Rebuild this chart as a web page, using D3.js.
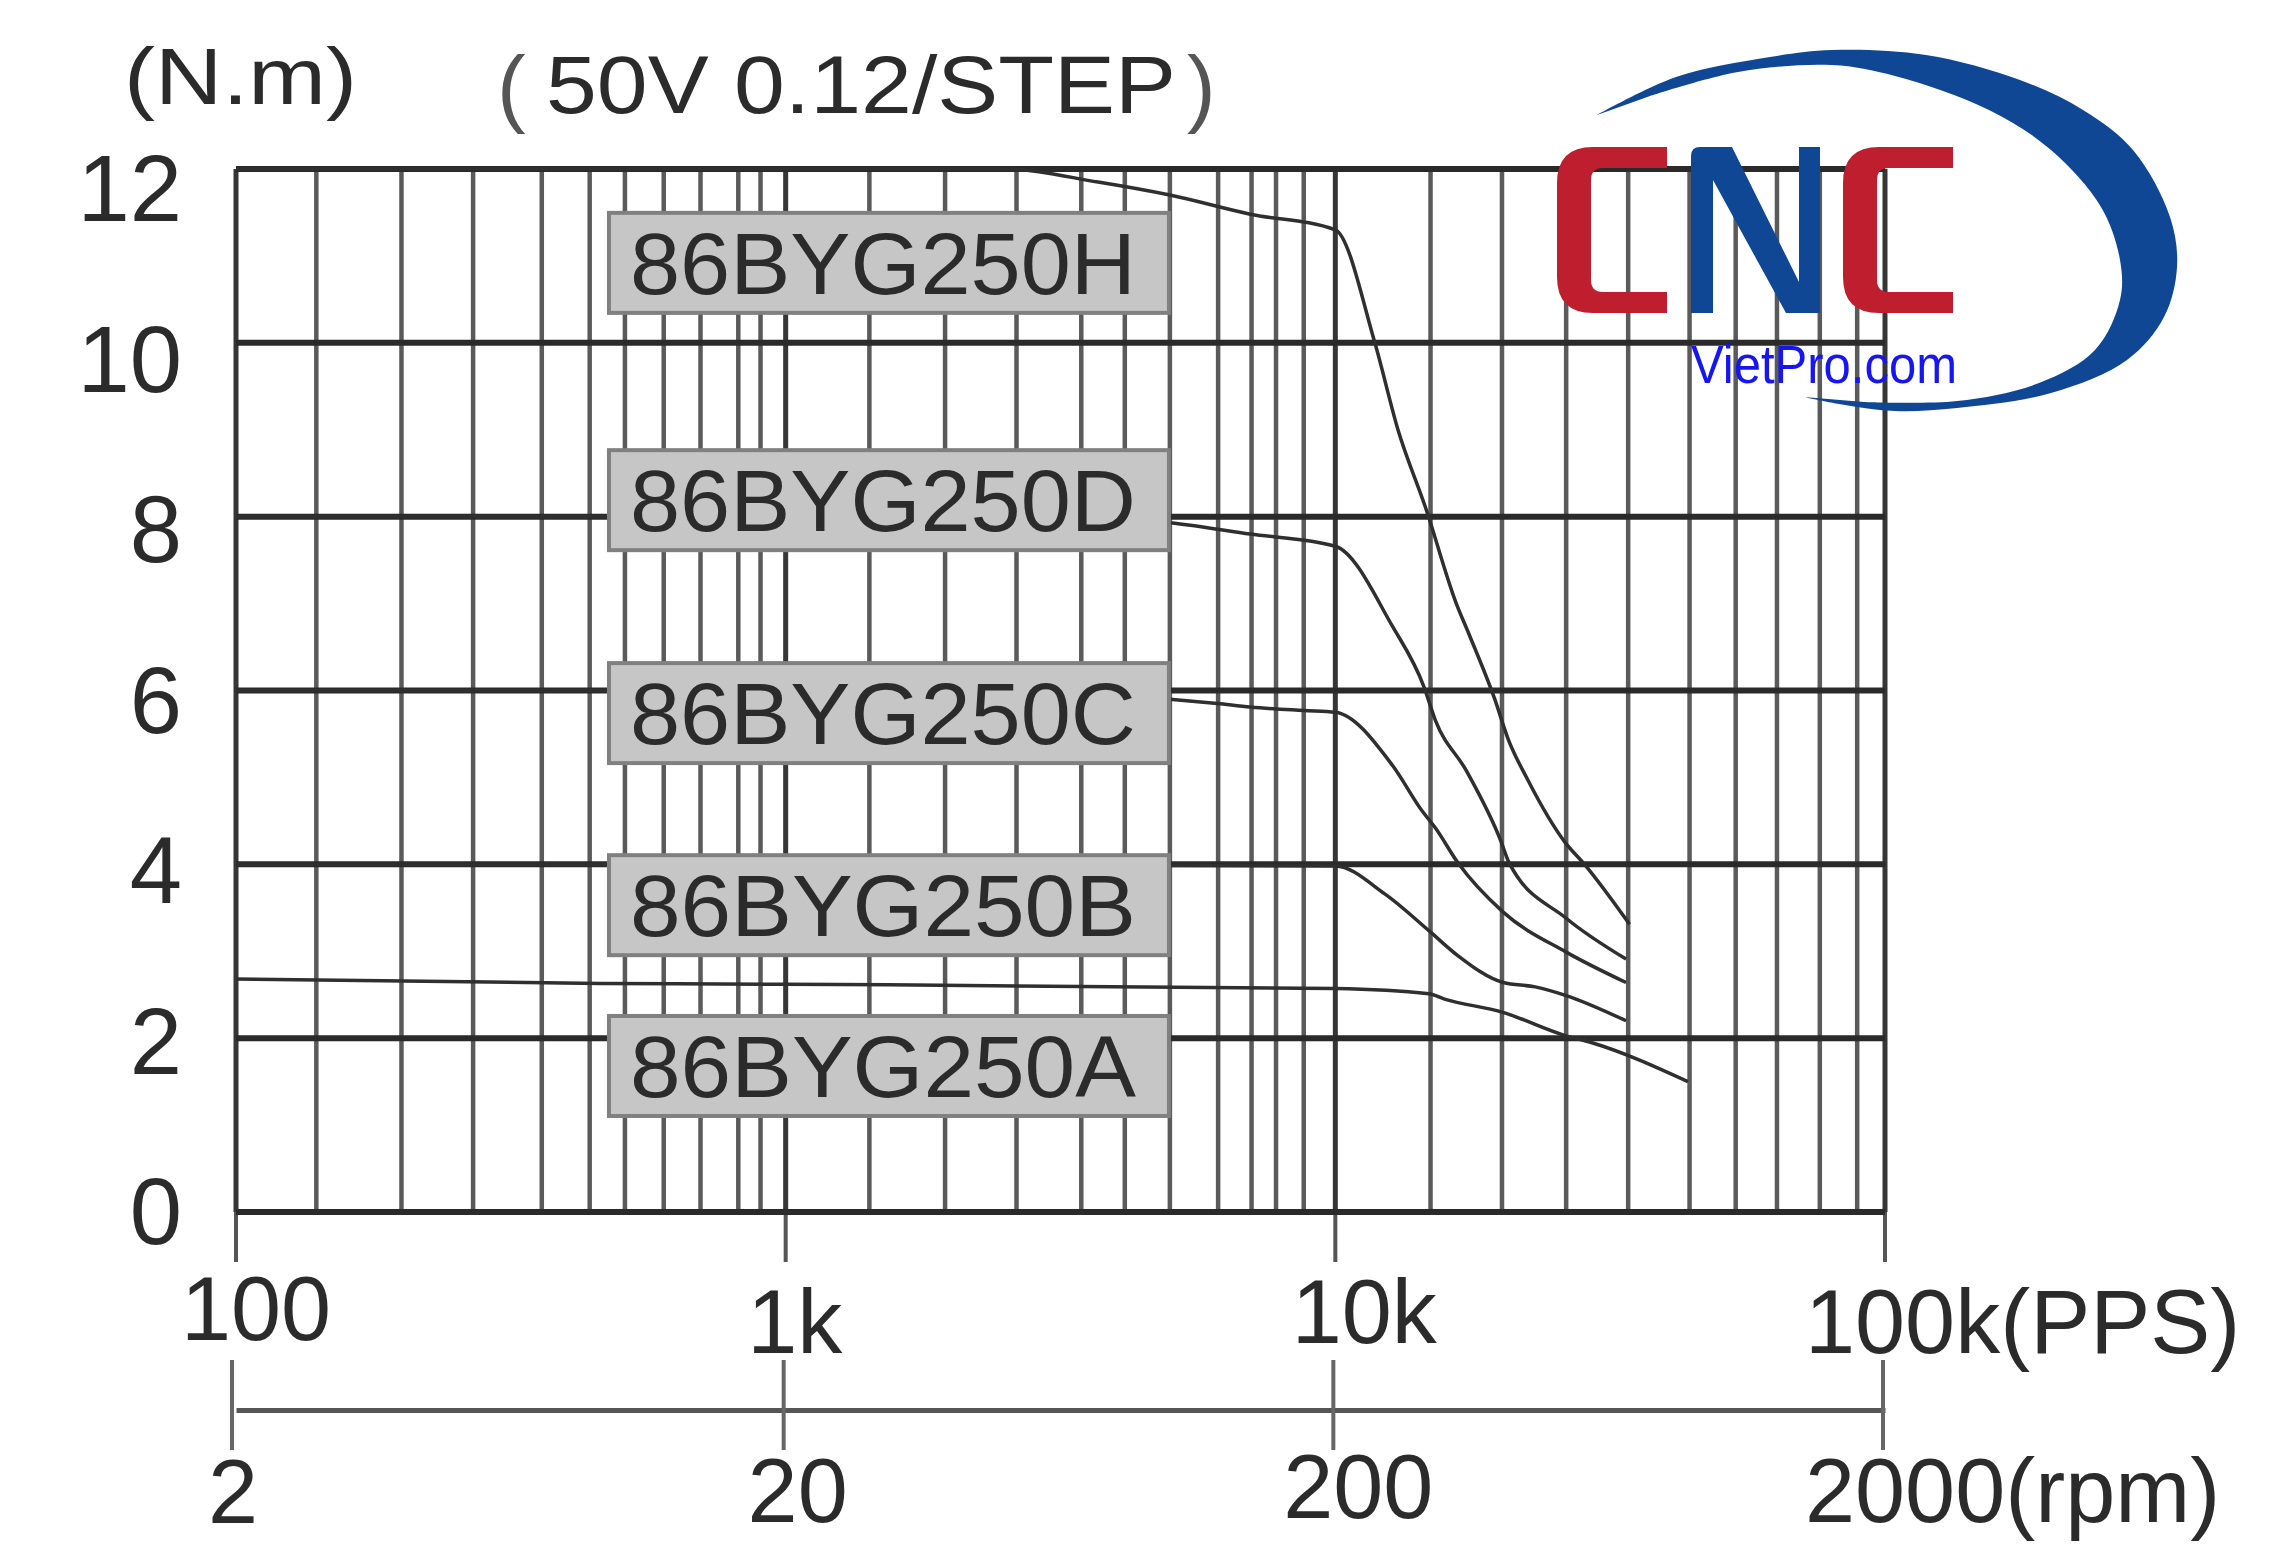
<!DOCTYPE html>
<html>
<head>
<meta charset="utf-8">
<script src="https://cdn.jsdelivr.net/npm/d3@7"></script>
<style>
  html, body { margin: 0; padding: 0; background: #ffffff; }
  svg { display: block; }
  text { font-family: "Liberation Sans", Arial, "Noto Sans CJK SC", sans-serif; fill: #2b2b2b; }
</style>
</head>
<body>
<svg id="chart" width="2282" height="1544"></svg>
<script>
// ---------------- DATA ----------------
const seriesNames = ["86BYG250H", "86BYG250D", "86BYG250C", "86BYG250B", "86BYG250A"];

// torque (N.m) vs pulse rate (PPS)
const curveH = [[100,12],[1000,12],[2500,12],[3700,11.85],[5000,11.7],[7000,11.48],[10000,11.3],
  [11800,10.0],[13000,9.0],[14600,8.1],[16600,7.0],[17500,6.65],[19500,5.9],[20600,5.45],
  [22400,4.97],[26200,4.25],[28400,4.0],[34300,3.31]];
const curveD = [[100,8],[1000,8],[3500,8],[5000,7.93],[7000,7.8],[10000,7.66],[12700,6.74],
  [14500,6.04],[15200,5.66],[17300,5.08],[20000,4.27],[20700,4.02],[26300,3.38],[33800,2.91]];
const curveC = [[100,6],[1000,6],[3000,6],[5000,5.9],[6100,5.85],[7000,5.81],[8760,5.77],
  [10000,5.75],[12700,5.14],[14400,4.61],[15200,4.42],[16700,4.02],[20200,3.45],[26300,2.99],[33800,2.64]];
const curveB = [[100,4],[1000,4],[10000,3.98],[12300,3.66],[14900,3.22],[16700,2.95],[20200,2.64],
  [23100,2.59],[26300,2.49],[33800,2.2]];
const curveA = [[100,2.68],[460,2.63],[1000,2.62],[10000,2.57],[14800,2.51],[15800,2.45],[20100,2.3],
  [26200,2.03],[29200,1.95],[43800,1.5]];
const curves = [curveH, curveD, curveC, curveB, curveA];

// grid lines on the PPS axis (as drawn on the original sheet)
const ppsGrid = [100,140,200,270,360,440,510,600,700,820,900,1000,
  1420,1950,2630,3450,4140,5000,6120,7040,7800,8760,10000,
  14900,20100,26300,34100,44100,53500,63600,76100,89000,100000];
const ppsMajor = [100, 1000, 10000, 100000];
const ppsLabels = ["100", "1k", "10k", "100k(PPS)"];
const torqueTicks = [0, 2, 4, 6, 8, 10, 12];
const torqueLabels = ["0", "2", "4", "6", "8", "10", "12"];
const rpmTicks = [2, 20, 200, 2000];
const rpmLabels = ["2", "20", "200", "2000(rpm)"];
// torque level at which each model tag is centred
const tagTorque = [10.92, 8.19, 5.74, 3.53, 1.68];

const unitText = "(N.m)";
const titleParts = ["(", "50V 0.12/STEP", ")"];

// ---------------- LAYOUT ----------------
const svg = d3.select("#chart");
const W = 2282, H = 1544;
svg.append("rect").attr("width", W).attr("height", H).attr("fill", "#fff");

const x = d3.scaleLog().domain([100, 100000]).range([236, 1885]);
const y = d3.scaleLinear().domain([0, 12]).range([1212, 169]);
const yLab = d3.scaleLinear().domain([0, 12]).range([1210, 187]);
const xr = d3.scaleLog().domain([2, 2000]).range([236, 1885]);

// vertical grid
const g = svg.append("g");
g.selectAll("line.v").data(ppsGrid).enter().append("line")
  .attr("x1", d => x(d)).attr("x2", d => x(d))
  .attr("y1", y(12)).attr("y2", y(0))
  .attr("stroke", d => ppsMajor.includes(d) ? "#363636" : "#5a5a5a")
  .attr("stroke-width", d => ppsMajor.includes(d) ? 5 : 4.5);

// major ticks below the torque axis
g.selectAll("line.t").data(ppsMajor).enter().append("line")
  .attr("x1", d => x(d)).attr("x2", d => x(d))
  .attr("y1", y(0)).attr("y2", y(0) + 50)
  .attr("stroke", "#555").attr("stroke-width", 4);

// horizontal grid
g.selectAll("line.h").data(torqueTicks).enter().append("line")
  .attr("x1", x(100)).attr("x2", x(100000))
  .attr("y1", d => y(d)).attr("y2", d => y(d))
  .attr("stroke", "#2a2a2a").attr("stroke-width", 6);

// curves
const line = d3.line().x(d => x(d[0])).y(d => y(d[1])).curve(d3.curveMonotoneX);
svg.append("g").selectAll("path").data(curves).enter().append("path")
  .attr("d", line).attr("fill", "none")
  .attr("stroke", "#2f2f2f").attr("stroke-width", 3.5)
  .attr("stroke-linejoin", "round");

// model tags
const tagLeft = x(477), tagW = 560, tagH = 100;
const tags = svg.append("g").selectAll("g").data(seriesNames).enter().append("g");
tags.append("rect")
  .attr("x", tagLeft).attr("y", (d, i) => y(tagTorque[i]) - tagH / 2)
  .attr("width", tagW).attr("height", tagH)
  .attr("fill", "#c6c6c6").attr("stroke", "#808080").attr("stroke-width", 4);
tags.append("text")
  .attr("x", tagLeft + 21).attr("y", (d, i) => y(tagTorque[i]) + 31)
  .attr("font-size", 88).attr("textLength", 506).attr("lengthAdjust", "spacingAndGlyphs")
  .attr("fill", "#333")
  .text(d => d);

// torque labels
svg.append("g").selectAll("text").data(torqueTicks).enter().append("text")
  .attr("x", 182).attr("y", d => yLab(d) + 34)
  .attr("text-anchor", "end").attr("font-size", 94)
  .text((d, i) => torqueLabels[i]);

// PPS labels
const ppsBase = [1340, 1353, 1343, 1353];
const ppsDx = [20, 9, 29];
svg.append("g").selectAll("text").data(ppsMajor).enter().append("text")
  .attr("x", (d, i) => i === 3 ? x(d) - 80 : x(d) + ppsDx[i])
  .attr("y", (d, i) => ppsBase[i])
  .attr("text-anchor", (d, i) => i === 3 ? "start" : "middle")
  .attr("font-size", 90)
  .text((d, i) => ppsLabels[i]);

// rpm axis
const rpmAxis = d3.axisBottom(xr).tickValues(rpmTicks).tickSize(0).tickFormat("");
const ra = svg.append("g").attr("transform", "translate(0,1410)").call(rpmAxis);
ra.select(".domain").attr("stroke", "#555").attr("stroke-width", 5);
svg.append("g").selectAll("line").data(rpmTicks).enter().append("line")
  .attr("x1", d => xr(d) - (d === 2 ? 4 : 2)).attr("x2", d => xr(d) - (d === 2 ? 4 : 2))
  .attr("y1", 1360).attr("y2", 1450)
  .attr("stroke", "#666").attr("stroke-width", 4);
const rpmBase = [1523, 1522, 1518, 1522];
svg.append("g").selectAll("text").data(rpmTicks).enter().append("text")
  .attr("x", (d, i) => i === 3 ? xr(d) - 80 : xr(d) + [-3, 12, 23][i])
  .attr("y", (d, i) => rpmBase[i])
  .attr("text-anchor", (d, i) => i === 3 ? "start" : "middle")
  .attr("font-size", 90)
  .text((d, i) => rpmLabels[i]);

// titles
svg.append("text").attr("x", 124).attr("y", 104).attr("font-size", 80)
  .attr("textLength", 233).attr("lengthAdjust", "spacingAndGlyphs").text(unitText);
svg.append("text").attr("x", 497).attr("y", 116).attr("font-size", 86)
  .attr("font-weight", 300).style("fill", "#555").text(titleParts[0]);
svg.append("text").attr("x", 546).attr("y", 113).attr("font-size", 82)
  .attr("textLength", 630).attr("lengthAdjust", "spacingAndGlyphs").text(titleParts[1]);
svg.append("text").attr("x", 1187).attr("y", 116).attr("font-size", 86)
  .style("fill", "#555").text(titleParts[2]);

// ---------------- LOGO ----------------
const logo = svg.append("g");
const outer = [[1597,115],[1676,77],[1770,57],[1832,50],[1926,55],[2020,80],[2083,110],[2133,150],
  [2170,217],[2177,267],[2164,317],[2127,360],[2051,393],[1957,408],[1895,411],[1845,405],[1804,397]];
const inner = [[1864,402],[1957,401],[2039,383],[2095,350],[2120,300],[2120,260],[2101,207],
  [2051,150],[1989,110],[1895,76],[1832,65],[1738,72],[1650,96]];
const swoosh = d3.line().curve(d3.curveCatmullRom.alpha(0.5));
logo.append("path").attr("d", swoosh(outer) + "L" + swoosh(inner).slice(1) + "Z")
  .attr("fill", "#0f4795");

function cPath(x0) {
  const x1 = x0 + 110, t = 147, b = 313, sw = 34, bh = 21, r = 36, ri = 12;
  return `M${x1},${t} L${x0 + r},${t} Q${x0},${t} ${x0},${t + r} L${x0},${b - r} Q${x0},${b} ${x0 + r},${b}
    L${x1},${b} L${x1},${b - bh} L${x0 + sw + ri},${b - bh} Q${x0 + sw},${b - bh} ${x0 + sw},${b - bh - ri}
    L${x0 + sw},${t + bh + ri} Q${x0 + sw},${t + bh} ${x0 + sw + ri},${t + bh} L${x1},${t + bh} Z`;
}
logo.append("path").attr("d", cPath(1557)).attr("fill", "#be1e2d");
logo.append("path").attr("d", cPath(1843)).attr("fill", "#be1e2d");
logo.append("path")
  .attr("d", "M1691,313 L1691,156 Q1691,147 1700,147 L1732,147 L1799,282 L1799,147 L1820,147 L1820,313 L1786,313 L1713,180 L1713,313 Z")
  .attr("fill", "#0f4795");
logo.append("text").attr("x", 1691).attr("y", 383).attr("font-size", 53)
  .attr("textLength", 266).attr("lengthAdjust", "spacingAndGlyphs")
  .style("fill", "#1616f2").text("VietPro.com");
</script>
</body>
</html>
